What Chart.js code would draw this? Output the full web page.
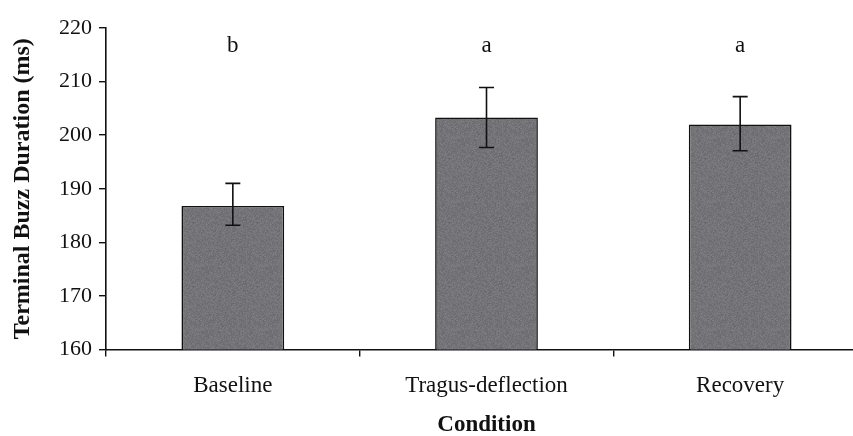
<!DOCTYPE html>
<html>
<head>
<meta charset="utf-8">
<script src="https://cdn.jsdelivr.net/npm/chart.js@4"></script>
<style>
  html, body { margin: 0; padding: 0; background: #fff; overflow: hidden; }
  #wrap { width: 868px; height: 436px; }
</style>
</head>
<body>
<div id="wrap"><canvas id="buzzChart" width="868" height="436"></canvas></div>
<script>
const conditions = ["Baseline", "Tragus-deflection", "Recovery"];
const meanDuration = [186.8, 203.3, 202.0];
const errLow = [183.2, 197.7, 197.1];
const errHigh = [191.0, 208.9, 207.2];
const groupLetters = ["b", "a", "a"];
const letterLevel = 215.5;
const yTicks = [160, 170, 180, 190, 200, 210, 220];

const serif = "'Liberation Serif', 'Times New Roman', serif";

// mottled grey fill for the bars
function grainPattern() {
  const c = document.createElement("canvas");
  c.width = 64; c.height = 64;
  const g = c.getContext("2d");
  const img = g.createImageData(64, 64);
  for (let y = 0; y < 64; y++) {
    for (let x = 0; x < 64; x++) {
      let h = (x * 374761393 + y * 668265263) ^ 0x5bd1e995;
      h = (h ^ (h >>> 13)) * 1274126177;
      h = (h ^ (h >>> 16)) & 255;
      const v = 114 + Math.round((h / 255 - 0.5) * 20);
      const i = (y * 64 + x) * 4;
      img.data[i] = v + 2; img.data[i + 1] = v + 1; img.data[i + 2] = v + 6; img.data[i + 3] = 255;
    }
  }
  g.putImageData(img, 0, 0);
  return g.createPattern(c, "repeat");
}

const errorBars = {
  id: "errorBars",
  afterDatasetsDraw(chart) {
    const ctx = chart.ctx;
    const y = chart.scales.y;
    const meta = chart.getDatasetMeta(0);
    ctx.save();
    ctx.strokeStyle = "#111";
    ctx.lineWidth = 1.6;
    meta.data.forEach((bar, i) => {
      const x = bar.x;
      const top = y.getPixelForValue(errHigh[i]);
      const bot = y.getPixelForValue(errLow[i]);
      ctx.beginPath();
      ctx.moveTo(x, top); ctx.lineTo(x, bot);
      ctx.moveTo(x - 7.5, top); ctx.lineTo(x + 7.5, top);
      ctx.moveTo(x - 7.5, bot); ctx.lineTo(x + 7.5, bot);
      ctx.stroke();
    });
    ctx.fillStyle = "#111";
    ctx.font = "23px " + serif;
    ctx.textAlign = "center";
    ctx.textBaseline = "alphabetic";
    meta.data.forEach((bar, i) => {
      ctx.fillText(groupLetters[i], bar.x, y.getPixelForValue(letterLevel));
    });
    ctx.restore();
  }
};

new Chart(document.getElementById("buzzChart"), {
  type: "bar",
  data: {
    labels: conditions,
    datasets: [{
      data: meanDuration,
      backgroundColor: grainPattern(),
      borderColor: "#111",
      borderWidth: 1.6,
      borderSkipped: false,
      barPercentage: 0.405,
      categoryPercentage: 1
    }]
  },
  options: {
    responsive: false,
    animation: false,
    layout: { padding: { top: 28, right: 1, left: 0, bottom: 0 } },
    plugins: {
      legend: { display: false },
      tooltip: { enabled: false }
    },
    scales: {
      x: {
        grid: { drawOnChartArea: false, tickLength: 7, color: "#111", lineWidth: 1.4 },
        border: { color: "#111", width: 1.6 },
        ticks: { color: "#111", padding: 16, font: { family: serif, size: 23 } },
        title: {
          display: true,
          text: "Condition",
          color: "#111",
          font: { family: serif, size: 23, weight: "bold", lineHeight: 0.95 },
          padding: { top: 4, bottom: 0 }
        },
        afterFit(scale) { scale.height = 86.5; }
      },
      y: {
        min: 160,
        max: 220,
        afterBuildTicks(scale) { scale.ticks = yTicks.map(v => ({ value: v })); },
        grid: { drawOnChartArea: false, tickLength: 7, color: "#111", lineWidth: 1.4 },
        border: { color: "#111", width: 1.6 },
        ticks: { color: "#111", padding: 7, font: { family: serif, size: 22 } },
        title: {
          display: true,
          text: "Terminal Buzz Duration (ms)",
          color: "#111",
          font: { family: serif, size: 24, weight: "bold" },
          padding: { top: 8, bottom: 0 }
        },
        afterFit(scale) { scale.width = 106; }
      }
    }
  },
  plugins: [errorBars]
});
</script>
</body>
</html>
